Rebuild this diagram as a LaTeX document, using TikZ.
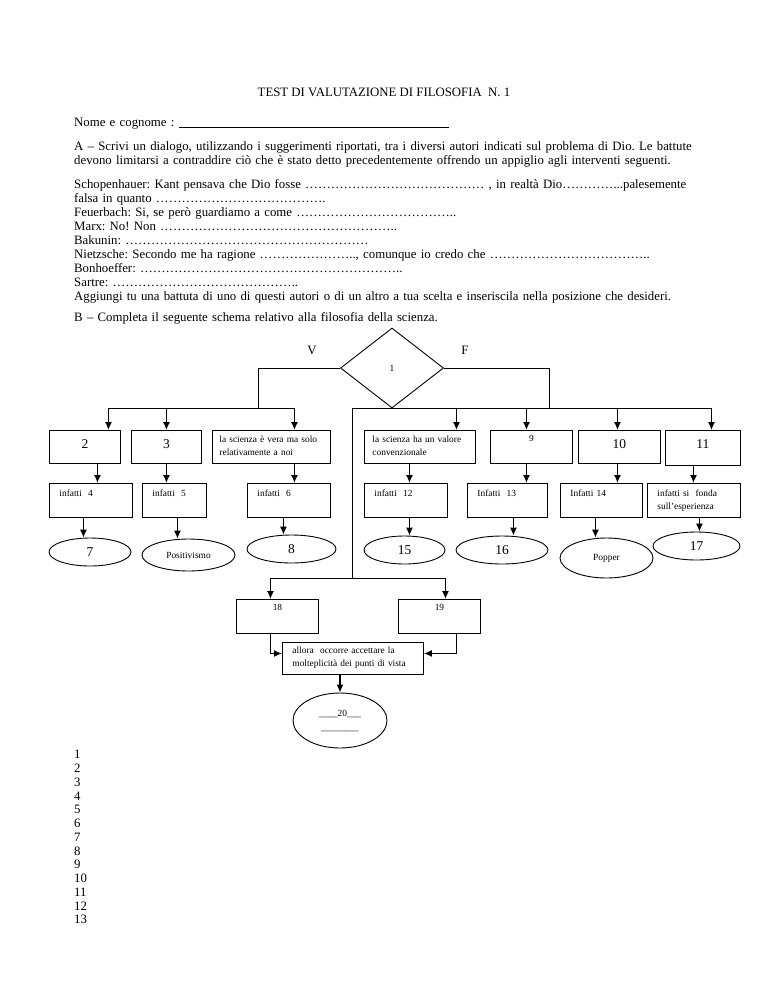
\documentclass[tikz,border=0pt]{standalone}
\usepackage{fontspec}
\setmainfont{Liberation Serif}
\usetikzlibrary{shapes.geometric, arrows.meta, positioning, calc}
\newcommand{\txtbody}{\fontsize{12.8}{14}\selectfont}
\newcommand{\txtsmall}{\fontsize{9.4}{13}\selectfont}
\newcommand{\txtbig}{\fontsize{13.5}{15}\selectfont}
\tikzset{
  cell/.style  ={draw=black, line width=0.9pt, anchor=north west,
                 inner xsep=0pt, inner ysep=0pt, font=\txtsmall},
  topnum/.style={cell, align=center, font=\txtbig, text height=18, text depth=15},
  topbox/.style={cell, align=left, inner xsep=8pt, text height=12, text depth=21},
  why/.style   ={cell, align=left, inner xsep=10pt, text height=13, text depth=21},
  oval/.style  ={draw=black, ellipse, line width=0.9pt, inner sep=0pt, font=\txtbig},
  wire/.style  ={line width=0.9pt},
  arr/.style   ={-{Latex[length=8pt,width=7pt]}, line width=1.3pt},
  para/.style  ={anchor=base west, align=left, inner sep=0pt, text width=690pt, font=\txtbody}
}

\begin{document}
\frenchspacing
\begin{tikzpicture}[x=1pt, y=-1pt]
  \fill[white] (0,0) rectangle (768,994);
  \useasboundingbox (0,0) rectangle (768,994);

  % intestazione e parte A
  \node[font=\txtbody] (title) at (384,92) {TEST DI VALUTAZIONE DI FILOSOFIA\ \ N. 1};
  \node[para] (nome) at (74,126) {Nome e cognome : \rule[-1.5pt]{270pt}{0.5pt}};
  \node[para] (parA) at (74,150) {A – Scrivi un dialogo, utilizzando i suggerimenti riportati, tra i diversi autori indicati sul problema di Dio. Le battute\\
    devono limitarsi a contraddire ciò che è stato detto precedentemente offrendo un appiglio agli interventi seguenti.};
  \node[para] (dialog) at (74,188) {Schopenhauer: Kant pensava che Dio fosse …………………………………… , in realtà Dio…………...palesemente\\
    falsa in quanto ………………………………….\\
    Feuerbach: Si, se però guardiamo a come ………………………………..\\
    Marx: No! Non ………………………………………………..\\
    Bakunin: …………………………………………………\\
    Nietzsche: Secondo me ha ragione …………………..,  comunque io credo che ………………………………..\\
    Bonhoeffer: ……………………………………………………..\\
    Sartre: ……………………………………..\\
    Aggiungi tu una battuta di uno di questi autori o di un altro a tua scelta e inseriscila nella posizione che desideri.};
  \node[para] (partB) at (74,321) {B – Completa il seguente schema relativo alla filosofia della scienza.};

  % schema
  \node[font=\txtbody] (vero) at (312,350) {V};
  \node[font=\txtbody] (falso) at (465,350) {F};
  \node[draw=black, diamond, line width=0.9pt, minimum width=103, minimum height=80,
        inner sep=0pt, font=\txtsmall] (d1) at (392,368) {1};

  \node[topnum, text width=71] (b2) at (49,430) {2};
  \node[topnum, text width=70] (b3) at (131,430) {3};
  \node[topbox, inner xsep=7pt, text width=104] (bV) at (212,430) {la scienza è vera ma solo\\relativamente a noi};
  \node[topbox, text width=95] (bF) at (364,430) {la scienza ha un valore\\convenzionale};
  \node[cell, align=center, text width=82, text height=11.5, text depth=21.5] (b9) at (490,430) {9};
  \node[topnum, text width=82] (b10) at (578,430) {10};
  \node[topnum, text width=75, text depth=17] (b11) at (665,430) {11};

  \node[why, text width=63] (i4) at (49,483) {infatti\ \ 4};
  \node[why, text width=44] (i5) at (142,483) {infatti\ \ 5};
  \node[why, text width=63] (i6) at (247,483) {infatti\ \ 6};
  \node[why, text width=63] (i12) at (364,483) {infatti\ \ 12};
  \node[why, text width=60] (i13) at (467,483) {Infatti\ \ 13};
  \node[why, text width=62] (i14) at (560,483) {Infatti 14};
  \node[why, text width=73] (i11) at (647,483) {infatti si\ \ fonda\\sull’esperienza};

  \node[oval, minimum width=82, minimum height=28] (e7) at (90,552) {7};
  \node[oval, minimum width=93, minimum height=32, font=\txtsmall] (epos) at (188.5,555) {Positivismo};
  \node[oval, minimum width=89, minimum height=28] (e8) at (291.5,549) {8};
  \node[oval, minimum width=81, minimum height=28] (e15) at (404.5,550) {15};
  \node[oval, minimum width=92, minimum height=28] (e16) at (502,550) {16};
  \node[oval, minimum width=93, minimum height=40, font=\txtsmall] (epop) at (606.5,558) {Popper\hspace{18pt}};
  \node[oval, minimum width=87, minimum height=28] (e17) at (696.5,546) {17};

  \node[cell, align=center, text width=82, text height=11.5, text depth=22.5] (b18) at (236,599) {18};
  \node[cell, align=center, text width=82, text height=11.5, text depth=22.5] (b19) at (398,599) {19};
  \node[cell, align=left, inner xsep=10pt, text width=121, text height=11.5, text depth=20.5] (allora) at (282,642)
    {allora\ \ occorre accettare la\\molteplicità dei punti di vista};
  \node[oval, minimum width=94, minimum height=55, font=\txtsmall, align=center] (e20) at (340,720.5)
    {\_\_\_\_20\_\_\_\\[1pt]\_\_\_\_\_\_\_\_};

  % rami V e F
  \coordinate (vturn) at (258,408);
  \coordinate (fturn) at (549,408);
  \coordinate (trunk) at (352,408);
  \coordinate (fork) at (352,578);
  \draw[wire] (d1.west) -| (vturn);
  \draw[wire] (d1.east) -| (fturn);
  \draw[wire] ([xshift=23.5]b2.north |- vturn) -- ([xshift=23]bV.north |- vturn);
  \draw[wire] (trunk) -- ([xshift=8.5]b11.north |- fturn);
  \foreach \b/\dx in {b2/23.5, b3/0, bV/23, bF/36.5, b9/-5, b10/-2, b11/8.5}
    \draw[arr] ([xshift=\dx]\b.north |- vturn) -- ([xshift=\dx]\b.north);

  \foreach \a/\b/\dx in {b2/i4/12.5, b3/i5/0, bV/i6/23, bF/i12/-10.5, b9/i13/-5, b10/i14/-2, b11/i11/-9.5}
    \draw[arr] ([xshift=\dx]\a.south) -- ([xshift=\dx]\a.south |- \b.north);
  \foreach \a/\b/\dx in {i4/e7/-7.5, i5/epos/3, i6/e8/-5.5, i12/e15/3.5, i13/e16/6, i14/epop/-6, i11/e17/5.5}
    \draw[arr] ([xshift=\dx]\a.south) -- ([xshift=\dx]\a.south |- \b.north);

  % ramo centrale
  \draw[wire] (trunk) -- (fork);
  \draw[wire] ([xshift=-7]b18.north |- fork) -- ([xshift=6]b19.north |- fork);
  \draw[arr] ([xshift=-7]b18.north |- fork) -- ([xshift=-7]b18.north);
  \draw[arr] ([xshift=6]b19.north |- fork) -- ([xshift=6]b19.north);
  \draw[arr] ([xshift=-7]b18.south) |- ([yshift=5]allora.west);
  \draw[arr] ([xshift=17]b19.south) |- ([yshift=5]allora.east);
  \draw[arr] (allora.south -| e20.north) -- (e20.north);

  % righe per le risposte
  \foreach \k in {1,...,13}
    \node[anchor=base west, inner sep=0pt, font=\txtbody] (r\k) at (74,745+13.75*\k) {\k};
\end{tikzpicture}
\end{document}
